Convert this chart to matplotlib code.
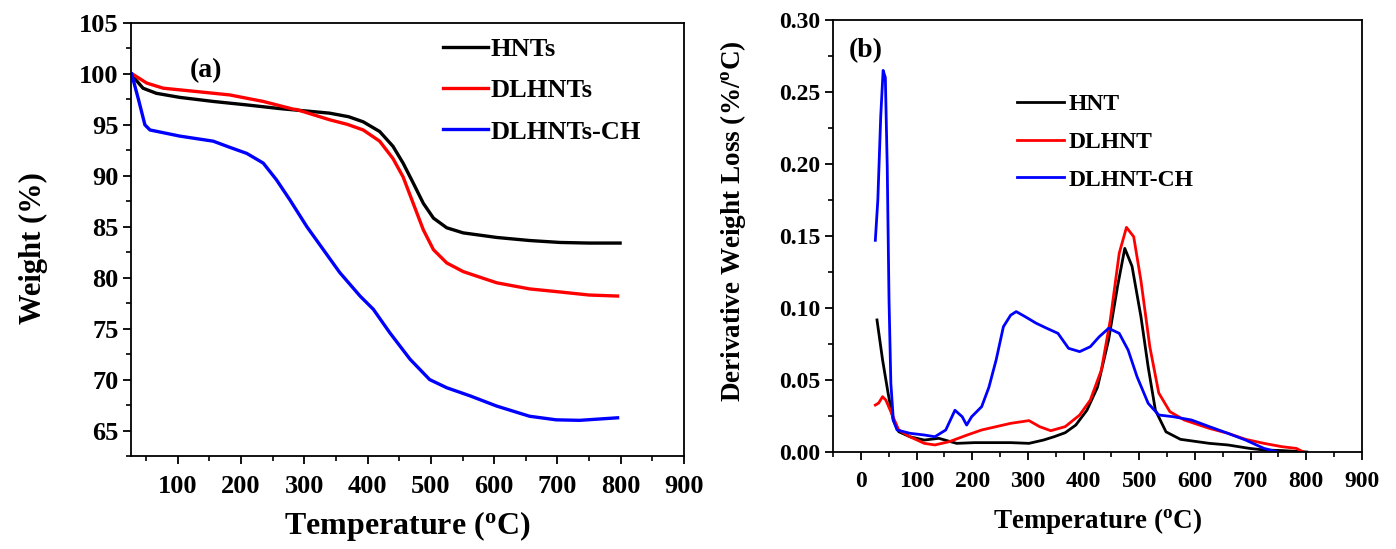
import matplotlib
matplotlib.use("Agg")
import matplotlib.pyplot as plt
from matplotlib.ticker import MultipleLocator, FormatStrFormatter

plt.rcParams['font.family'] = ['Liberation Serif', 'DejaVu Serif']
plt.rcParams['font.weight'] = 'bold'
plt.rcParams['mathtext.fontset'] = 'custom'
plt.rcParams['mathtext.rm'] = 'Liberation Serif:bold'
plt.rcParams['mathtext.bf'] = 'Liberation Serif:bold'
plt.rcParams['mathtext.it'] = 'Liberation Serif:bold'

# ---------------- Panel (a): TGA ----------------
hnt_T = [27, 45, 66, 103, 156, 209, 261, 314, 340, 370, 393, 419, 440, 456, 472, 488, 504, 525, 551,
         604, 656, 704, 750, 799]
hnt_W = [99.9, 98.6, 98.1, 97.7, 97.3, 96.96, 96.6, 96.3, 96.15, 95.8, 95.3, 94.35, 92.9, 91.25, 89.3,
         87.3, 85.85, 84.9, 84.4, 83.95, 83.65, 83.46, 83.4, 83.4]

dl_T = [28, 51, 77, 130, 182, 235, 282, 288, 340, 368, 393, 419, 440, 456, 472, 488, 504, 525, 551,
        604, 656, 704, 750, 795]
dl_W = [100.0, 99.1, 98.6, 98.27, 97.94, 97.3, 96.55, 96.5, 95.5, 95.05, 94.5, 93.4, 91.7, 89.9, 87.3,
        84.7, 82.75, 81.45, 80.6, 79.5, 78.9, 78.6, 78.3, 78.2]

ch_T = [27, 38, 48, 56, 103, 156, 182, 209, 235, 256, 277, 304, 330, 356, 388, 409, 435, 467, 498,
        525, 562, 604, 656, 698, 735, 795]
ch_W = [100.0, 97.45, 95.0, 94.5, 93.9, 93.4, 92.8, 92.2, 91.25, 89.6, 87.65, 85.0, 82.75, 80.5,
        78.2, 76.9, 74.6, 72.0, 70.0, 69.2, 68.4, 67.4, 66.4, 66.05, 66.0, 66.25]

labels_a = ['HNTs', 'DLHNTs', 'DLHNTs-CH']

# ---------------- Panel (b): DTG ----------------
dhnt_T = [29, 39, 49, 58, 68, 88, 114, 140, 172, 204, 269, 302, 328, 347, 367, 386, 406, 425, 445, 461, 474,
          487, 503, 516, 529, 548, 574, 626, 659, 698, 724, 756, 801]
dhnt_D = [0.0917, 0.064, 0.0407, 0.0222, 0.0141, 0.0106, 0.0083, 0.0095, 0.006, 0.0065, 0.0065, 0.006, 0.0083,
          0.0106, 0.0134, 0.0187, 0.029, 0.045, 0.078, 0.115, 0.1414, 0.129, 0.094, 0.059, 0.029, 0.014, 0.0088,
          0.006, 0.0049, 0.0025, 0.0014, 0.001, 0.0]

ddl_T = [26, 32, 39, 45, 55, 68, 88, 114, 133, 159, 191, 217, 243, 269, 302, 321, 341, 367, 393, 412, 432, 448,
         464, 477, 490, 503, 519, 535, 555, 581, 626, 659, 691, 724, 756, 782, 795]
ddl_D = [0.0326, 0.034, 0.0384, 0.036, 0.027, 0.0153, 0.0106, 0.006, 0.0049, 0.0072, 0.0118, 0.0153, 0.0176,
         0.0199, 0.0218, 0.0176, 0.0148, 0.0176, 0.0257, 0.036, 0.057, 0.0917, 0.138, 0.156, 0.1495, 0.119,
         0.073, 0.041, 0.028, 0.0222, 0.0164, 0.013, 0.0088, 0.006, 0.0037, 0.0025, 0.0]

dch_T = [26, 30.5, 35.7, 40, 44, 47.4, 50.6, 53.9, 58.4, 65, 88, 114, 133, 152.5, 169, 182, 190, 199, 217, 230,
         243, 256, 269, 279, 295, 315, 334, 354, 373, 393, 412, 428, 445, 464, 480, 496, 516, 535, 561, 594,
         626, 659, 691, 724, 749]
dch_D = [0.147, 0.175, 0.233, 0.265, 0.26, 0.198, 0.1056, 0.0477, 0.022, 0.0153, 0.013, 0.0118, 0.0106, 0.0153,
         0.029, 0.0245, 0.0187, 0.0245, 0.0315, 0.045, 0.064, 0.087, 0.095, 0.0975, 0.094, 0.0894, 0.0859,
         0.0824, 0.072, 0.0697, 0.0731, 0.080, 0.0859, 0.0824, 0.0708, 0.0523, 0.0338, 0.0257, 0.0245, 0.0222,
         0.0176, 0.013, 0.0083, 0.0025, 0.0]

labels_b = ['HNT', 'DLHNT', 'DLHNT-CH']
colors = ['#000000', '#ff0000', '#0000ff']

fig = plt.figure(figsize=(13.96, 5.49), dpi=100)

axa = fig.add_axes([131/1396, 1-456/549, (684-131)/1396, (456-23)/549])
axb = fig.add_axes([833/1396, 1-452/549, (1362-833)/1396, (452-20)/549])

for T, W, c, lab in zip([hnt_T, dl_T, ch_T], [hnt_W, dl_W, ch_W], colors, labels_a):
    axa.plot(T, W, color=c, lw=2.4, label=lab, solid_joinstyle='round')

axa.set_xlim(26, 900)
axa.set_ylim(62.5, 105)
axa.xaxis.set_major_locator(MultipleLocator(100))
axa.xaxis.set_minor_locator(MultipleLocator(50))
axa.yaxis.set_major_locator(MultipleLocator(5))
axa.yaxis.set_minor_locator(MultipleLocator(2.5))
axa.tick_params(which='major', direction='out', length=6, width=1.3, labelsize=19, pad=3)
axa.tick_params(which='minor', direction='out', length=3.5, width=1.2)
axa.tick_params(axis='x', pad=8)
for s in axa.spines.values():
    s.set_linewidth(1.3)
axa.set_xlabel('Temperature ($^{\\mathrm{o}}$C)', fontsize=23, fontweight='bold')
axa.set_ylabel('Weight (%)', fontsize=22, fontweight='bold')
axa.xaxis.set_label_coords(0.5, -0.123)
axa.yaxis.set_label_coords(-0.15, 0.48)
axa.text(0.136, 0.89, '(a)', transform=axa.transAxes, fontsize=20, fontweight='bold',
         ha='center', va='center')
axa.legend(loc='upper left', bbox_to_anchor=(0.564, 0.967), frameon=False, fontsize=19,
           handlelength=1.7, handletextpad=0.1, labelspacing=0.68, borderpad=0, borderaxespad=0)

for T, D, c, lab in zip([dhnt_T, ddl_T, dch_T], [dhnt_D, ddl_D, dch_D], colors, labels_b):
    axb.plot(T, D, color=c, lw=2.0, label=lab, solid_joinstyle='round')

axb.set_xlim(-50, 900)
axb.set_ylim(0, 0.30)
axb.xaxis.set_major_locator(MultipleLocator(100))
axb.xaxis.set_minor_locator(MultipleLocator(50))
axb.yaxis.set_major_locator(MultipleLocator(0.05))
axb.yaxis.set_minor_locator(MultipleLocator(0.025))
axb.yaxis.set_major_formatter(FormatStrFormatter('%.2f'))
axb.tick_params(which='major', direction='out', length=6, width=1.3, labelsize=17, pad=3)
axb.tick_params(which='minor', direction='out', length=3.5, width=1.2)
axb.tick_params(axis='x', pad=8)
for s in axb.spines.values():
    s.set_linewidth(1.3)
axb.set_xlabel('Temperature ($^{\\mathrm{o}}$C)', fontsize=19.5, fontweight='bold')
axb.set_ylabel('Derivative Weight Loss (%/$^{\\mathrm{o}}$C)', fontsize=19.5, fontweight='bold')
axb.xaxis.set_label_coords(0.5, -0.125)
axb.yaxis.set_label_coords(-0.16, 0.535)
axb.text(0.062, 0.93, '(b)', transform=axb.transAxes, fontsize=20, fontweight='bold',
         ha='center', va='center')
axb.legend(loc='upper left', bbox_to_anchor=(0.348, 0.829), frameon=False, fontsize=17,
           handlelength=2.0, handletextpad=0.2, labelspacing=0.68, borderpad=0, borderaxespad=0)

fig.savefig('out.png', dpi=100)
